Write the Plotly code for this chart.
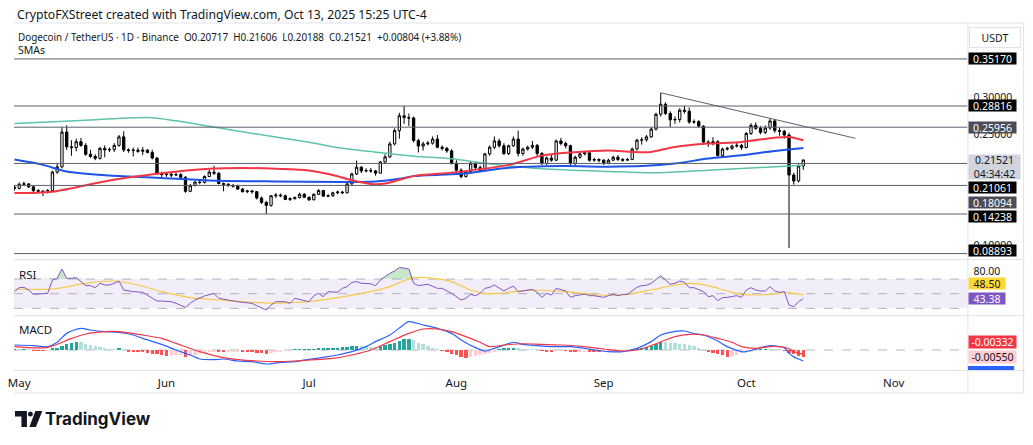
import pandas as pd
import numpy as np
import plotly.graph_objects as go

W, H = 1033, 445
OX, OY = 8, 8          # the page body margin that the browser adds around the figure
FONT = "Noto Sans"
TXT = "#131722"


def px(x):
    return (x - OX) / W


def py(y):
    return 1 - (y - OY) / H


# ---------------- daily candles (Apr 30 .. Oct 13, 2025) ----------------
dates = pd.date_range("2025-04-30", "2025-10-13", freq="D")

opens = [
    .1785, .1770, .1825, .1830, .1790, .1740, .1730, .1725, .1740, .1990,
    .2060, .2530, .2330, .2320, .2400, .2350, .2230, .2200, .2175, .2310,
    .2290, .2295, .2350, .2465, .2290, .2280, .2285, .2270, .2285, .2255,
    .2180, .1970, .1955, .1960, .1950, .1955, .1920, .1730, .1810, .1855,
    .1850, .1930, .1990, .1975, .1835, .1825, .1810, .1800, .1760, .1725,
    .1735, .1725, .1640, .1580, .1540, .1670, .1680, .1670, .1620, .1630,
    .1645, .1690, .1650, .1615, .1690, .1740, .1665, .1670, .1710, .1720,
    .1710, .1830, .1965, .2055, .2005, .2010, .2005, .1975, .2125, .2195,
    .2370, .2550, .2750, .2725, .2720, .2415, .2340, .2370, .2380, .2435,
    .2325, .2310, .2275, .2110, .2015, .1930, .1995, .2110, .2050, .2010,
    .2235, .2325, .2410, .2345, .2240, .2345, .2435, .2240, .2300, .2325,
    .2350, .2240, .2105, .2180, .2150, .2410, .2375, .2345, .2105, .2190,
    .2235, .2250, .2150, .2160, .2150, .2110, .2150, .2190, .2160, .2150,
    .2160, .2300, .2420, .2425, .2465, .2570, .2770, .2905, .2780, .2695,
    .2700, .2825, .2810, .2665, .2670, .2610, .2395, .2375, .2400, .2215,
    .2300, .2310, .2340, .2350, .2320, .2510, .2620, .2580, .2525, .2585,
    .2680, .2550, .2540, .2490, .1950, .1870, .20717,
]
highs = [
    .1810, .1850, .1860, .1840, .1800, .1760, .1750, .1760, .2010, .2110,
    .2600, .2620, .2420, .2440, .2450, .2380, .2290, .2230, .2330, .2350,
    .2320, .2380, .2490, .2540, .2310, .2320, .2320, .2330, .2300, .2290,
    .2190, .1995, .1985, .1985, .2000, .1975, .1935, .1830, .1870, .1880,
    .1945, .2020, .2075, .1985, .1850, .1840, .1830, .1820, .1775, .1750,
    .1750, .1735, .1660, .1600, .1680, .1705, .1700, .1685, .1650, .1660,
    .1710, .1705, .1660, .1700, .1760, .1750, .1690, .1725, .1740, .1735,
    .1840, .1980, .2145, .2070, .2040, .2045, .2020, .2140, .2230, .2400,
    .2580, .2790, .2882, .2780, .2740, .2440, .2400, .2410, .2470, .2490,
    .2350, .2330, .2300, .2150, .2040, .2010, .2135, .2125, .2080, .2250,
    .2350, .2470, .2440, .2380, .2360, .2470, .2550, .2320, .2345, .2410,
    .2370, .2260, .2200, .2235, .2430, .2450, .2400, .2360, .2210, .2250,
    .2275, .2265, .2185, .2175, .2165, .2170, .2210, .2220, .2180, .2180,
    .2320, .2440, .2460, .2490, .2590, .2790, .3060, .2930, .2810, .2740,
    .2850, .2885, .2860, .2700, .2690, .2620, .2420, .2460, .2420, .2320,
    .2330, .2360, .2390, .2370, .2530, .2650, .2660, .2610, .2620, .2715,
    .2700, .2590, .2560, .2520, .1980, .2095, .21606,
]
lows = [
    .1740, .1755, .1800, .1775, .1720, .1705, .1665, .1700, .1720, .1965,
    .2040, .2290, .2210, .2270, .2330, .2210, .2180, .2150, .2160, .2190,
    .2260, .2260, .2330, .2260, .2250, .2200, .2250, .2220, .2240, .2160,
    .1950, .1925, .1925, .1920, .1935, .1905, .1710, .1720, .1795, .1825,
    .1835, .1920, .1950, .1825, .1730, .1790, .1780, .1750, .1715, .1705,
    .1700, .1620, .1560, .1424, .1520, .1640, .1650, .1610, .1600, .1620,
    .1635, .1640, .1600, .1610, .1680, .1655, .1650, .1655, .1690, .1695,
    .1700, .1820, .1950, .1975, .1985, .1980, .1940, .1970, .2110, .2180,
    .2350, .2440, .2640, .2610, .2390, .2255, .2280, .2350, .2360, .2310,
    .2280, .2250, .2090, .1990, .1905, .1915, .1985, .2030, .1990, .2000,
    .2210, .2300, .2320, .2220, .2220, .2330, .2200, .2210, .2280, .2300,
    .2200, .2080, .2085, .2130, .2140, .2350, .2310, .2080, .2075, .2170,
    .2215, .2130, .2130, .2120, .2085, .2095, .2140, .2140, .2130, .2140,
    .2150, .2280, .2360, .2400, .2450, .2550, .2740, .2760, .2600, .2640,
    .2660, .2780, .2640, .2640, .2590, .2360, .2330, .2350, .2200, .2195,
    .2280, .2290, .2320, .2290, .2310, .2490, .2560, .2500, .2500, .2560,
    .2520, .2480, .2440, .0965, .1820, .1850, .20188,
]
closes = [
    .1770, .1825, .1830, .1790, .1740, .1730, .1725, .1740, .1990, .2060,
    .2530, .2330, .2320, .2400, .2350, .2230, .2200, .2175, .2310, .2290,
    .2295, .2350, .2465, .2290, .2280, .2285, .2270, .2285, .2255, .2180,
    .1970, .1955, .1960, .1950, .1955, .1920, .1730, .1810, .1855, .1850,
    .1930, .1990, .1975, .1835, .1825, .1810, .1800, .1760, .1725, .1735,
    .1725, .1640, .1580, .1540, .1670, .1680, .1670, .1620, .1630, .1645,
    .1690, .1650, .1615, .1690, .1740, .1665, .1670, .1710, .1720, .1710,
    .1830, .1965, .2055, .2005, .2010, .2005, .1975, .2125, .2195, .2370,
    .2550, .2750, .2725, .2720, .2415, .2340, .2370, .2380, .2435, .2325,
    .2310, .2275, .2110, .2015, .1930, .1995, .2110, .2050, .2010, .2235,
    .2325, .2410, .2345, .2240, .2345, .2435, .2240, .2300, .2325, .2350,
    .2240, .2105, .2180, .2150, .2410, .2375, .2345, .2105, .2190, .2235,
    .2250, .2150, .2160, .2150, .2110, .2150, .2190, .2160, .2150, .2160,
    .2300, .2420, .2425, .2465, .2570, .2770, .2905, .2780, .2695, .2700,
    .2825, .2810, .2665, .2670, .2610, .2395, .2375, .2400, .2215, .2300,
    .2310, .2340, .2350, .2320, .2510, .2620, .2580, .2525, .2585, .2680,
    .2550, .2540, .2490, .1950, .1870, .20717, .21521,
]

# ---------------- SMAs (sampled along the drawn lines) ----------------
sma50_dates = ["2025-04-30", "2025-05-08", "2025-05-20", "2025-05-30", "2025-06-10", "2025-06-17",
               "2025-06-24", "2025-07-01", "2025-07-06", "2025-07-10", "2025-07-14", "2025-07-17",
               "2025-07-20", "2025-07-23", "2025-08-01", "2025-08-12", "2025-08-19", "2025-08-26",
               "2025-09-02", "2025-09-07", "2025-09-11", "2025-09-16", "2025-09-23", "2025-09-30",
               "2025-10-07", "2025-10-10", "2025-10-13"]
sma50 = [0.1707, 0.1725, 0.1877, 0.1966, 0.2034, 0.2045, 0.2034, 0.2011, 0.1950, 0.1880, 0.1830,
         0.1835, 0.1885, 0.1935, 0.1989, 0.2087, 0.2212, 0.2258, 0.2280, 0.2262, 0.2262, 0.2329,
         0.2374, 0.2396, 0.2454, 0.2463, 0.2419]

sma100_dates = ["2025-04-30", "2025-05-06", "2025-05-11", "2025-05-20", "2025-05-31", "2025-06-10",
                "2025-06-24", "2025-07-08", "2025-07-15", "2025-07-20", "2025-07-23", "2025-08-02",
                "2025-08-12", "2025-08-23", "2025-09-02", "2025-09-09", "2025-09-16", "2025-09-23",
                "2025-09-30", "2025-10-07", "2025-10-13"]
sma100 = [0.2158, 0.2087, 0.1998, 0.1944, 0.1909, 0.1877, 0.1863, 0.1855, 0.1863, 0.1899, 0.1935,
          0.1966, 0.2047, 0.2070, 0.2063, 0.2070, 0.2105, 0.2172, 0.2217, 0.2275, 0.2316]

sma200_dates = ["2025-04-30", "2025-05-13", "2025-05-28", "2025-06-03", "2025-06-10", "2025-06-20",
                "2025-07-01", "2025-07-08", "2025-07-15", "2025-07-23", "2025-07-31", "2025-08-08",
                "2025-08-19", "2025-09-02", "2025-09-12", "2025-09-23", "2025-10-03", "2025-10-13"]
sma200 = [0.2647, 0.2682, 0.2727, 0.2682, 0.2607, 0.2503, 0.2392, 0.2311, 0.2258, 0.2204, 0.2168,
          0.2101, 0.2034, 0.1998, 0.1980, 0.2016, 0.2047, 0.2083]

# ---------------- drawings ----------------
level_prices = [0.35170, 0.28816, 0.25956, 0.21061, 0.18094, 0.14238, 0.08893]
level_label_colors = ["#000000", "#000000", "#4a4d57", "#000000", "#4a4d57", "#000000", "#000000"]
level_label_shift = [0, 0, 0, -24, -17, -2.5, 2.6]
trend_dates = ["2025-09-13", "2025-10-24"]
trend_prices = [0.3060, 0.2445]
countdown = "04:34:42"
price_ticks = [0.10, 0.25, 0.30]

# ---------------- RSI ----------------
rsi_dates = ["2025-04-30", "2025-05-01", "2025-05-02", "2025-05-03", "2025-05-04", "2025-05-06",
             "2025-05-07", "2025-05-08", "2025-05-09", "2025-05-10", "2025-05-11", "2025-05-12",
             "2025-05-13", "2025-05-15", "2025-05-16", "2025-05-17", "2025-05-18", "2025-05-19",
             "2025-05-20", "2025-05-21", "2025-05-22", "2025-05-23", "2025-05-25", "2025-05-27",
             "2025-05-28", "2025-05-30", "2025-05-31", "2025-06-02", "2025-06-03", "2025-06-05",
             "2025-06-06", "2025-06-07", "2025-06-09", "2025-06-10", "2025-06-11", "2025-06-12",
             "2025-06-13", "2025-06-16", "2025-06-17", "2025-06-19", "2025-06-20", "2025-06-22",
             "2025-06-23", "2025-06-24", "2025-06-26", "2025-06-27", "2025-06-28", "2025-06-30",
             "2025-07-01", "2025-07-02", "2025-07-03", "2025-07-04", "2025-07-05", "2025-07-07",
             "2025-07-08", "2025-07-09", "2025-07-10", "2025-07-11", "2025-07-12", "2025-07-14",
             "2025-07-15", "2025-07-16", "2025-07-17", "2025-07-18", "2025-07-19", "2025-07-20",
             "2025-07-21", "2025-07-22", "2025-07-23", "2025-07-24", "2025-07-25", "2025-07-26",
             "2025-07-28", "2025-07-29", "2025-07-31", "2025-08-01", "2025-08-02", "2025-08-03",
             "2025-08-04", "2025-08-05", "2025-08-06", "2025-08-07", "2025-08-08", "2025-08-09",
             "2025-08-10", "2025-08-11", "2025-08-12", "2025-08-13", "2025-08-14", "2025-08-15",
             "2025-08-17", "2025-08-18", "2025-08-19", "2025-08-20", "2025-08-21", "2025-08-22",
             "2025-08-23", "2025-08-24", "2025-08-25", "2025-08-26", "2025-08-28", "2025-08-29",
             "2025-08-30", "2025-09-01", "2025-09-02", "2025-09-03", "2025-09-04", "2025-09-05",
             "2025-09-06", "2025-09-08", "2025-09-09", "2025-09-10", "2025-09-11", "2025-09-12",
             "2025-09-13", "2025-09-14", "2025-09-15", "2025-09-16", "2025-09-17", "2025-09-18",
             "2025-09-19", "2025-09-20", "2025-09-22", "2025-09-23", "2025-09-24", "2025-09-25",
             "2025-09-26", "2025-09-27", "2025-09-29", "2025-09-30", "2025-10-01", "2025-10-02",
             "2025-10-03", "2025-10-04", "2025-10-05", "2025-10-06", "2025-10-07", "2025-10-08",
             "2025-10-09", "2025-10-10", "2025-10-11", "2025-10-12", "2025-10-13"]
rsi = [52.8, 58.2, 58.7, 55.0, 49.1, 50.5,
       50.5, 68.7, 71.0, 83.7, 71.0, 71.0,
       71.9, 61.0, 61.0, 58.2, 64.2, 61.9,
       61.9, 64.2, 67.3, 55.0, 52.8, 51.9,
       48.2, 40.0, 40.0, 39.1, 36.9, 31.4,
       36.9, 41.4, 47.0, 49.1, 50.5, 43.7,
       42.3, 39.1, 38.2, 36.9, 33.6, 27.8,
       34.5, 39.1, 39.1, 36.9, 43.7, 40.0,
       39.1, 47.3, 50.5, 45.9, 52.8, 51.9,
       57.3, 59.6, 65.5, 66.5, 64.2, 63.5,
       61.0, 68.7, 73.3, 77.8, 81.0, 85.6,
       85.0, 83.7, 64.2, 61.0, 61.9, 62.8,
       57.3, 57.3, 50.5, 46.0, 41.4, 43.7,
       49.1, 47.3, 50.5, 57.3, 58.7, 61.9,
       57.3, 53.7, 57.3, 60.5, 52.8, 54.1,
       55.9, 51.9, 45.0, 50.5, 48.2, 57.3,
       55.0, 53.7, 45.0, 47.3, 49.6, 47.3,
       47.3, 45.0, 47.3, 49.1, 47.3, 49.1,
       49.1, 58.7, 61.0, 61.5, 64.2, 70.0,
       74.6, 68.7, 62.8, 64.2, 67.3, 65.5,
       58.2, 58.2, 52.8, 45.9, 47.3, 40.5,
       44.6, 45.0, 47.3, 45.0, 55.0, 58.2,
       55.0, 53.7, 53.7, 59.6, 53.7, 51.9,
       52.8, 34.5, 32.2, 39.1, 43.38]

rsi_ma_dates = ["2025-04-30", "2025-05-08", "2025-05-15", "2025-05-21", "2025-05-26", "2025-05-31",
                "2025-06-06", "2025-06-12", "2025-06-17", "2025-06-23", "2025-06-27", "2025-07-01",
                "2025-07-07", "2025-07-14", "2025-07-18", "2025-07-23", "2025-07-28", "2025-07-31",
                "2025-08-04", "2025-08-07", "2025-08-10", "2025-08-17", "2025-08-24", "2025-08-31",
                "2025-09-06", "2025-09-11", "2025-09-16", "2025-09-19", "2025-09-23", "2025-09-27",
                "2025-09-30", "2025-10-06", "2025-10-09", "2025-10-11", "2025-10-13"]
rsi_ma = [56.4, 56.4, 64.2, 67.3, 61.9, 52.8, 44.6, 41.4, 39.1, 36.9, 37.8, 39.1, 44.6, 52.8, 59.6,
          71.9, 70.1, 66.4, 55.0, 50.5, 50.5, 55.0, 52.8, 48.2, 49.1, 55.0, 61.9, 64.2, 61.0, 53.7,
          49.1, 49.1, 51.9, 50.5, 48.50]

# ---------------- MACD (values in thousandths) ----------------
macd_dates = ["2025-04-30", "2025-05-04", "2025-05-07", "2025-05-09", "2025-05-11", "2025-05-14",
              "2025-05-16", "2025-05-19", "2025-05-22", "2025-05-25", "2025-05-27", "2025-05-31",
              "2025-06-03", "2025-06-06", "2025-06-08", "2025-06-11", "2025-06-13", "2025-06-16",
              "2025-06-19", "2025-06-22", "2025-06-25", "2025-06-28", "2025-07-01", "2025-07-05",
              "2025-07-07", "2025-07-10", "2025-07-13", "2025-07-15", "2025-07-18", "2025-07-21",
              "2025-07-22", "2025-07-25", "2025-07-28", "2025-07-31", "2025-08-02", "2025-08-05",
              "2025-08-07", "2025-08-09", "2025-08-11", "2025-08-13", "2025-08-15", "2025-08-18",
              "2025-08-21", "2025-08-25", "2025-08-28", "2025-08-30", "2025-09-02", "2025-09-05",
              "2025-09-08", "2025-09-11", "2025-09-13", "2025-09-15", "2025-09-18", "2025-09-20",
              "2025-09-22", "2025-09-25", "2025-09-27", "2025-09-30", "2025-10-01", "2025-10-04",
              "2025-10-06", "2025-10-08", "2025-10-09", "2025-10-10", "2025-10-11", "2025-10-12",
              "2025-10-13"]
macd_milli = [4.0, 3.5, 2.7, 6.2, 13.3, 17.3,
              16.0, 14.7, 14.1, 12.0, 9.3, 4.5,
              0.0, -4.0, -7.2, -7.7, -7.2, -8.8,
              -9.3, -11.2, -9.9, -9.3, -7.5, -5.3,
              -4.0, -1.3, 2.7, 6.7, 12.0, 20.5,
              22.7, 20.0, 17.3, 13.3, 8.0, 1.9,
              -0.8, 1.3, 3.8, 6.2, 4.5, 3.5,
              2.7, 2.7, 1.3, 0.0, -1.3, -1.3,
              1.3, 6.7, 12.0, 14.1, 15.2, 13.1,
              12.0, 7.2, 2.7, -1.3, -1.3, 1.9,
              3.5, 2.7, 1.9, -2.5, -5.5, -7.2,
              -8.82]
signal_dates = ["2025-04-30", "2025-05-07", "2025-05-12", "2025-05-15", "2025-05-19", "2025-05-22",
                "2025-05-27", "2025-05-31", "2025-06-03", "2025-06-08", "2025-06-12", "2025-06-16",
                "2025-06-20", "2025-06-24", "2025-06-28", "2025-07-01", "2025-07-06", "2025-07-10",
                "2025-07-14", "2025-07-18", "2025-07-22", "2025-07-25", "2025-07-28", "2025-07-31",
                "2025-08-03", "2025-08-06", "2025-08-08", "2025-08-11", "2025-08-15", "2025-08-19",
                "2025-08-23", "2025-08-28", "2025-09-01", "2025-09-05", "2025-09-08", "2025-09-11",
                "2025-09-14", "2025-09-16", "2025-09-19", "2025-09-22", "2025-09-25", "2025-09-28",
                "2025-09-30", "2025-10-03", "2025-10-06", "2025-10-08", "2025-10-09", "2025-10-10",
                "2025-10-11", "2025-10-12", "2025-10-13"]
signal_milli = [2.7, 2.1, 9.3, 12.8, 14.7, 14.7,
                12.0, 9.3, 5.3, -1.3, -5.3, -7.7,
                -8.8, -9.3, -8.8, -8.0, -6.7, -4.0,
                0.0, 6.7, 13.3, 16.8, 16.8, 14.7,
                10.7, 6.2, 2.7, 4.0, 5.0, 4.5,
                4.0, 2.7, 0.8, -0.8, 0.0, 3.5,
                8.0, 10.7, 12.5, 12.0, 9.3, 6.2,
                2.7, 1.3, 2.7, 2.7, 2.2, 1.0,
                -1.2, -2.5, -3.32]
hist_milli = [
    0.4, 0.3, 0.3, 0.1, -0.2, -0.4, -0.5, -0.4, 0.9, 1.9,
    3.5, 5.0, 6.0, 6.8, 6.2, 5.0, 4.0, 3.0, 2.2, 1.3,
    0.8, 0.7, 0.9, 0.6, -1.0, -1.3, -1.6, -1.9, -2.3, -2.8,
    -3.5, -4.3, -5.0, -4.6, -4.0, -3.6, -5.5, -5.0, -4.3, -3.5,
    -2.7, -1.8, -1.2, -1.5, -1.8, -1.7, -1.6, -1.4, -1.5, -1.7,
    -1.9, -2.3, -2.6, -2.8, -2.3, -1.6, -1.0, -0.7, -0.4, 0.1,
    0.3, 0.5, 0.5, 0.6, 0.9, 1.1, 1.3, 1.6, 2.0, 2.4,
    2.8, 3.3, 3.6, 3.3, 3.0, 2.7, 2.5, 2.9, 3.7, 4.8,
    6.0, 7.5, 8.6, 9.2, 7.8, 6.0, 4.5, 3.2, 2.0, 0.6,
    -0.8, -1.7, -2.8, -4.0, -5.2, -6.4, -5.8, -5.0, -4.2, -3.2,
    -2.2, -1.2, 0.2, 1.0, 1.3, 1.6, 1.2, 0.8, 0.6, 0.4,
    0.2, -0.5, -1.0, -1.2, -0.6, -0.3, -0.4, -1.0, -1.3, -1.2,
    -1.1, -1.4, -1.6, -1.7, -1.5, -1.3, -1.0, -0.9, -0.8, -0.6,
    0.4, 1.1, 1.9, 2.6, 3.6, 5.0, 6.6, 6.2, 5.9, 5.6,
    5.1, 4.6, 4.0, 3.2, 2.0, 0.8, -1.6, -2.4, -3.5, -4.2,
    -5.3, -4.8, -3.9, -2.7, -1.9, -1.0, 0.4, 0.6, 0.8, 0.6,
    0.4, 0.3, -0.3, -2.0, -3.5, -4.8, -5.5,
]

month_ticks = ["2025-05-01", "2025-06-01", "2025-07-01", "2025-08-01", "2025-09-01", "2025-10-01", "2025-11-01"]
month_labels = ["May", "Jun", "Jul", "Aug", "Sep", "Oct", "Nov"]

# ---------------- derived ----------------
macd = [v / 1000 for v in macd_milli]
signal = [v / 1000 for v in signal_milli]
hist = [v / 1000 for v in hist_milli]
hist_colors = []
for i, v in enumerate(hist):
    prev = hist[i - 1] if i > 0 else v
    if v >= 0:
        hist_colors.append("#26a69a" if v >= prev else "#b2dfdb")
    else:
        hist_colors.append("#ffcdd2" if v > prev else "#ff5252")

fig = go.Figure()

fig.add_trace(go.Candlestick(
    x=dates, open=opens, high=highs, low=lows, close=closes,
    increasing=dict(line=dict(color="#000000", width=1), fillcolor="#ffffff"),
    decreasing=dict(line=dict(color="#000000", width=1), fillcolor="#000000"),
    whiskerwidth=0, showlegend=False, hoverinfo="skip", xaxis="x", yaxis="y"))

for xs, ys, col, wd in [(sma200_dates, sma200, "#5fc3a8", 1.5),
                        (sma100_dates, sma100, "#1e53e5", 2),
                        (sma50_dates, sma50, "#f23645", 2)]:
    fig.add_trace(go.Scatter(x=xs, y=ys, mode="lines", line=dict(color=col, width=wd, shape="spline", smoothing=0.8),
                             showlegend=False, hoverinfo="skip", xaxis="x", yaxis="y"))

# RSI
fig.add_trace(go.Scatter(x=rsi_dates, y=[70] * len(rsi), mode="lines", line=dict(width=0),
                         showlegend=False, hoverinfo="skip", xaxis="x2", yaxis="y2"))
fig.add_trace(go.Scatter(x=rsi_dates, y=list(np.maximum(rsi, 70)), mode="lines", line=dict(width=0),
                         fill="tonexty", fillcolor="rgba(76,175,80,0.30)",
                         showlegend=False, hoverinfo="skip", xaxis="x2", yaxis="y2"))
fig.add_trace(go.Scatter(x=rsi_ma_dates, y=rsi_ma, mode="lines",
                         line=dict(color="#f7c948", width=1.2, shape="spline", smoothing=0.8),
                         showlegend=False, hoverinfo="skip", xaxis="x2", yaxis="y2"))
fig.add_trace(go.Scatter(x=rsi_dates, y=rsi, mode="lines", line=dict(color="#7e57c2", width=1),
                         showlegend=False, hoverinfo="skip", xaxis="x2", yaxis="y2"))

# MACD
fig.add_trace(go.Bar(x=dates, y=hist, marker=dict(color=hist_colors, line=dict(width=0)),
                     width=0.72 * 86400000, showlegend=False, hoverinfo="skip", xaxis="x3", yaxis="y3"))
fig.add_trace(go.Scatter(x=macd_dates, y=macd, mode="lines",
                         line=dict(color="#2962ff", width=1.2, shape="spline", smoothing=0.8),
                         showlegend=False, hoverinfo="skip", xaxis="x3", yaxis="y3"))
fig.add_trace(go.Scatter(x=signal_dates, y=signal, mode="lines",
                         line=dict(color="#f23645", width=1.2, shape="spline", smoothing=0.8),
                         showlegend=False, hoverinfo="skip", xaxis="x3", yaxis="y3"))

XD = [px(8), px(967)]
xr = ["2025-04-29 21:50", "2025-11-16 13:00"]
axis_common = dict(showgrid=False, zeroline=False, showline=False)
fig.update_layout(
    width=W, height=H, margin=dict(l=0, r=0, t=0, b=0),
    paper_bgcolor="#ffffff", plot_bgcolor="#ffffff",
    font=dict(family=FONT, color=TXT, size=11),
    bargap=0, barmode="overlay",
    xaxis=dict(domain=XD, range=xr, type="date", showticklabels=False, anchor="y",
               rangeslider=dict(visible=False), **axis_common),
    xaxis2=dict(domain=XD, range=xr, type="date", showticklabels=False, anchor="y2", matches="x", **axis_common),
    xaxis3=dict(domain=XD, range=xr, type="date", anchor="y3", matches="x",
                tickmode="array", tickvals=month_ticks, ticktext=month_labels, ticks="",
                ticklabeloverflow="allow",
                ticklabelstandoff=4, tickfont=dict(size=11.5, color=TXT, family=FONT), **axis_common),
    yaxis=dict(domain=[py(258), py(23)], range=[0.08298, 0.40020], side="right", anchor="x",
               tickmode="array", tickvals=price_ticks, tickformat=".5f",
               ticks="", ticklabelstandoff=5, tickfont=dict(size=10.5, color=TXT, family=FONT), **axis_common),
    yaxis2=dict(domain=[py(315), py(261)], range=[20.94, 94.61], side="right", anchor="x2",
                tickmode="array", tickvals=[80], tickformat=".2f",
                ticks="", ticklabelstandoff=5, tickfont=dict(size=10.5, color=TXT, family=FONT), **axis_common),
    yaxis3=dict(domain=[py(370), py(316)], range=[-0.016, 0.0272], side="right", anchor="x3",
                showticklabels=False, **axis_common),
)

shapes = []
shapes.append(dict(type="rect", xref="x2 domain", yref="y2", x0=0, x1=1, y0=30, y1=70,
                   fillcolor="rgba(126,87,194,0.10)", line=dict(width=0), layer="below"))
for lv in [70, 50, 30]:
    shapes.append(dict(type="line", xref="x2 domain", yref="y2", x0=0, x1=1, y0=lv, y1=lv,
                       line=dict(color="rgba(120,123,134,0.55)", width=1, dash="dash"), layer="below"))
shapes.append(dict(type="line", xref="x3 domain", yref="y3", x0=0, x1=1, y0=0, y1=0,
                   line=dict(color="rgba(120,123,134,0.55)", width=1, dash="dash"), layer="below"))
for lv in level_prices:
    shapes.append(dict(type="line", xref="x domain", yref="y", x0=0, x1=1, y0=lv, y1=lv,
                       line=dict(color="#5d606b", width=1), layer="above"))
shapes.append(dict(type="line", xref="x", yref="y", x0=trend_dates[0], x1=trend_dates[1],
                   y0=trend_prices[0], y1=trend_prices[1], line=dict(color="#5d606b", width=1), layer="above"))
BORDER = "#e0e3eb"
for yy in [23, 259.5, 315.5, 370.5, 393]:
    shapes.append(dict(type="line", xref="paper", yref="paper", x0=px(8), x1=px(1030), y0=py(yy), y1=py(yy),
                       line=dict(color=BORDER, width=1), layer="above"))
shapes.append(dict(type="line", xref="paper", yref="paper", x0=px(967.5), x1=px(967.5), y0=py(393), y1=py(23),
                   line=dict(color=BORDER, width=1), layer="above"))
shapes.append(dict(type="line", xref="paper", yref="paper", x0=px(1023.5), x1=px(1023.5), y0=py(393), y1=py(23),
                   line=dict(color=BORDER, width=1), layer="above"))
# cut-off MACD line label at the pane bottom
shapes.append(dict(type="rect", xref="paper", yref="y3", x0=px(967.5), x1=px(1014),
                   ysizemode="pixel", yanchor=macd[-1], y0=-9.5, y1=-5,
                   fillcolor="#2962ff", line=dict(width=0), layer="above"))
# TradingView logo mark
shapes.append(dict(type="path", xref="paper", yref="paper",
                   path=f"M {px(9)} {py(411)} L {px(21)} {py(411)} L {px(21)} {py(427)} L {px(15.5)} {py(427)} "
                        f"L {px(15.5)} {py(416.5)} L {px(9)} {py(416.5)} Z",
                   fillcolor="#131722", line=dict(width=0)))
shapes.append(dict(type="circle", xref="paper", yref="paper", x0=px(22), x1=px(27), y0=py(416.5), y1=py(411.5),
                   fillcolor="#131722", line=dict(width=0)))
shapes.append(dict(type="path", xref="paper", yref="paper",
                   path=f"M {px(29.5)} {py(411)} L {px(36.5)} {py(411)} L {px(30)} {py(427)} L {px(23.5)} {py(427)} Z",
                   fillcolor="#131722", line=dict(width=0)))
fig.update_layout(shapes=shapes)

ann = []


def text_ann(x, y, t, size=11, family=FONT):
    ann.append(dict(xref="paper", yref="paper", x=px(x), y=py(y), text=t, showarrow=False, align="left",
                    xanchor="left", yanchor="middle", font=dict(size=size, color=TXT, family=family)))


chg = closes[-1] - closes[-2]
GAP = "\u00a0 "
legend = (f"Dogecoin / TetherUS · 1D · Binance{GAP}O{opens[-1]:.5f}{GAP}H{highs[-1]:.5f}{GAP}"
          f"L{lows[-1]:.5f}{GAP}C{closes[-1]:.5f}{GAP}{chg:+.5f} ({chg / closes[-2] * 100:+.2f}%)")
text_ann(9, 14.5, "CryptoFXStreet created with TradingView.com, Oct 13, 2025 15:25 UTC-4", size=12.2)
text_ann(10, 37, legend, size=9.9)
text_ann(10, 50, "SMAs", size=10.5)
text_ann(11, 274, "RSI", size=11.5)
text_ann(11, 329, "MACD", size=11.5)
text_ann(37, 419, "<b>TradingView</b>", size=17, family="Inter")

for lv, col, sh in zip(level_prices, level_label_colors, level_label_shift):
    ann.append(dict(xref="paper", yref="y", x=px(967.5), y=lv, yshift=sh, xanchor="left", yanchor="middle",
                    text=f"{lv:.5f}", showarrow=False, bgcolor=col, width=45, height=9, borderpad=1,
                    font=dict(size=10.5, color="#ffffff", family=FONT)))
ann.append(dict(xref="paper", yref="y", x=px(967.5), y=closes[-1], yshift=-6.5, xanchor="left", yanchor="middle",
                text=f"{closes[-1]:.5f}<br>{countdown}", showarrow=False, bgcolor="#d1d4dc",
                width=49, height=22, borderpad=1, font=dict(size=10.5, color=TXT, family=FONT)))
ann.append(dict(xref="paper", yref="paper", x=px(969), y=py(37.5), xanchor="left", yanchor="middle",
                text="USDT", showarrow=False, bgcolor="#ffffff", bordercolor=BORDER, borderwidth=1,
                width=48, height=17, borderpad=1, font=dict(size=10.5, color=TXT, family=FONT)))
ann.append(dict(xref="paper", yref="y2", x=px(967.5), y=rsi_ma[-1], yshift=11.5, xanchor="left", yanchor="middle",
                text=f"{rsi_ma[-1]:.2f}", showarrow=False, bgcolor="#fdd835", width=34, height=9, borderpad=1,
                font=dict(size=10.5, color=TXT, family=FONT)))
ann.append(dict(xref="paper", yref="y2", x=px(967.5), y=rsi[-1], yshift=0, xanchor="left", yanchor="middle",
                text=f"{rsi[-1]:.2f}", showarrow=False, bgcolor="#7e57c2", width=34, height=9, borderpad=1,
                font=dict(size=10.5, color="#ffffff", family=FONT)))
ann.append(dict(xref="paper", yref="y3", x=px(967.5), y=signal[-1], yshift=12, xanchor="left", yanchor="middle",
                text=f"{signal[-1]:.5f}", showarrow=False, bgcolor="#f23645", width=45, height=10, borderpad=1,
                font=dict(size=10.5, color="#ffffff", family=FONT)))
ann.append(dict(xref="paper", yref="y3", x=px(967.5), y=hist[-1], yshift=0, xanchor="left", yanchor="middle",
                text=f"{hist[-1]:.5f}", showarrow=False, bgcolor="#ffcdd2", width=45, height=10, borderpad=1,
                font=dict(size=10.5, color=TXT, family=FONT)))
fig.update_layout(annotations=ann)

fig.write_html("out.html")
